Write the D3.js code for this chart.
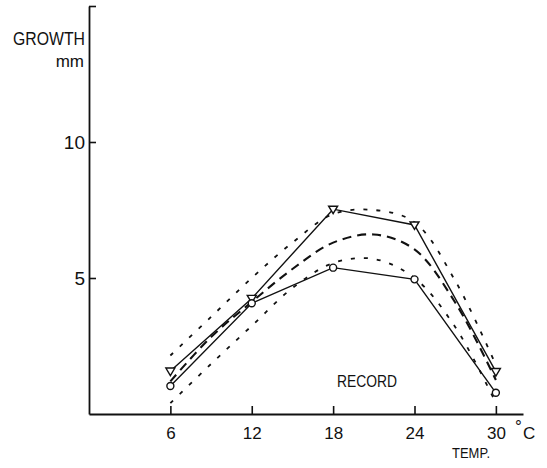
<!DOCTYPE html>
<html>
<head>
<meta charset="utf-8">
<script src="https://cdn.jsdelivr.net/npm/d3@7"></script>
<style>
  html, body { margin: 0; padding: 0; background: #fff; }
  svg text { font-family: "Liberation Sans", Arial, sans-serif; fill: #111; }
</style>
</head>
<body>
<svg id="chart" width="547" height="468"></svg>
<script>
// measured temps (triangles / circles)
const temps = [6, 12, 18, 24, 30];
const growthTri = [1.58, 4.25, 7.53, 6.95, 1.56];
const growthCirc = [1.03, 4.07, 5.38, 4.95, 0.78];

// dashed curves read at every 3 degrees
const curveTemps = [6, 9, 12, 15, 18, 21, 24, 27, 30];
const upperBand = [2.15, 3.57, 5.0, 6.3, 7.35, 7.5, 7.05, 4.9, 1.8];
const meanCurve = [1.2, 2.83, 4.12, 5.33, 6.3, 6.6, 6.05, 4.1, 1.25];
const lowerBand = [0.4, 1.84, 3.24, 4.63, 5.55, 5.7, 5.0, 3.2, 0.4];

const xTicks = [6, 12, 18, 24, 30];
const yTicks = [5, 10, 15];

const svg = d3.select("#chart");

const x = d3.scaleLinear().domain([0, 32]).range([89, 523]);
const y = d3.scaleLinear().domain([0, 15]).range([414, 6]);

// x axis, ticks pointing up
const xAxis = svg.append("g")
  .attr("transform", `translate(0,${y(0)})`)
  .call(d3.axisBottom(x).tickValues(xTicks).tickSizeInner(-8).tickSizeOuter(0).tickPadding(13));

// y axis, ticks pointing right
const yAxis = svg.append("g")
  .attr("transform", `translate(${x(0)},0)`)
  .call(d3.axisLeft(y).tickValues(yTicks).tickSizeInner(-7).tickSizeOuter(0).tickPadding(4)
    .tickFormat(d => d === 15 ? "" : d));

[xAxis, yAxis].forEach(g => {
  g.select(".domain").attr("stroke", "#111").attr("stroke-width", 1.8);
  g.selectAll(".tick line").attr("stroke", "#111").attr("stroke-width", 1.6);
  g.selectAll(".tick text").attr("font-family", "Liberation Sans, Arial, sans-serif").attr("fill", "#111");
});
xAxis.selectAll(".tick text").attr("font-size", 17);
yAxis.selectAll(".tick text").attr("font-size", 19);

// dashed curves
const curveLine = d3.line()
  .x(d => x(d[0]))
  .y(d => y(d[1]))
  .curve(d3.curveCatmullRom.alpha(0.5));

function drawCurve(vals, width, dash) {
  svg.append("path")
    .datum(curveTemps.map((t, i) => [t, vals[i]]))
    .attr("d", curveLine)
    .attr("fill", "none")
    .attr("stroke", "#111")
    .attr("stroke-width", width)
    .attr("stroke-dasharray", dash);
}
drawCurve(upperBand, 1.8, "4 9");
drawCurve(lowerBand, 1.8, "4 9");
drawCurve(meanCurve, 2.1, "9 6");

// measured series
const polyLine = d3.line().x(d => x(d[0])).y(d => y(d[1]));

function drawSeries(vals) {
  const pts = temps.map((t, i) => [t, vals[i]]);
  svg.append("path")
    .datum(pts)
    .attr("d", polyLine)
    .attr("fill", "none")
    .attr("stroke", "#111")
    .attr("stroke-width", 1.4);
  return pts;
}

const triPts = drawSeries(growthTri);
const circPts = drawSeries(growthCirc);

svg.selectAll(".tri")
  .data(triPts)
  .join("path")
  .attr("class", "tri")
  .attr("transform", d => `translate(${x(d[0])},${y(d[1])})`)
  .attr("d", "M-4.5,-3L4.5,-3L0,4.5Z")
  .attr("fill", "#fff")
  .attr("stroke", "#111")
  .attr("stroke-width", 1.4);

svg.selectAll(".circ")
  .data(circPts)
  .join("circle")
  .attr("class", "circ")
  .attr("cx", d => x(d[0]))
  .attr("cy", d => y(d[1]))
  .attr("r", 3.5)
  .attr("fill", "#fff")
  .attr("stroke", "#111")
  .attr("stroke-width", 1.4);

// labels
svg.append("text")
  .attr("x", 85).attr("y", 45)
  .attr("text-anchor", "end")
  .attr("font-size", 18)
  .attr("textLength", 72).attr("lengthAdjust", "spacingAndGlyphs")
  .text("GROWTH");

svg.append("text")
  .attr("x", 84).attr("y", 67)
  .attr("text-anchor", "end")
  .attr("font-size", 17)
  .text("mm");

svg.append("text")
  .attr("x", 337).attr("y", 387)
  .attr("font-size", 16)
  .attr("textLength", 60).attr("lengthAdjust", "spacingAndGlyphs")
  .text("RECORD");

svg.append("text")
  .attr("x", 452).attr("y", 458)
  .attr("font-size", 15)
  .attr("textLength", 38).attr("lengthAdjust", "spacingAndGlyphs")
  .text("TEMP.");

// degree sign raised, just left of the C
svg.append("text")
  .attr("x", 515).attr("y", 432)
  .attr("font-size", 17)
  .text("°");
svg.append("text")
  .attr("x", 523).attr("y", 439)
  .attr("font-size", 17)
  .text("C");
</script>
</body>
</html>
